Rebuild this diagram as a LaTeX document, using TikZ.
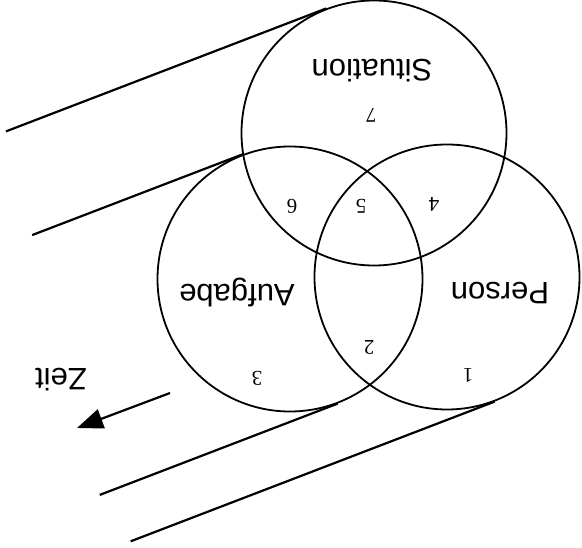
\documentclass[tikz,border=0pt]{standalone}
\usepackage{fontspec}
\setmainfont{Liberation Serif}
\setsansfont{Liberation Sans}
\usetikzlibrary{arrows.meta, calc}

\begin{document}
\begin{tikzpicture}[x=1pt, y=-1pt,
    kreis/.style = {circle, draw, line width=1.8pt, minimum size=265pt, inner sep=0pt},
    titel/.style = {rotate=180, font=\sffamily\fontsize{31}{31}\selectfont},
    zahl/.style = {rotate=180, font=\rmfamily\fontsize{21}{21}\selectfont},
    spur/.style = {line width=2.2pt}
]
\useasboundingbox (0,0) rectangle (582,548);

% die drei Kreise
\node (sit) [kreis] at (374,133) {};
\node (auf) [kreis] at (290,279) {};
\node (per) [kreis] at (447,277) {};

% Beschriftung (auf dem Kopf)
\node (tsit) [titel] at (372,71) {Situation};
\node (tauf) [titel] at (237,293) {Aufgabe};
\node (tper) [titel] at (500,293) {Person};
\node (tzeit) [titel] at (61,380) {Zeit};

\node (n1) [zahl] at (468,375) {1};
\node (n2) [zahl] at (369,347) {2};
\node (n3) [zahl] at (257,378) {3};
\node (n4) [zahl] at (434,204) {4};
\node (n5) [zahl] at (361,206) {5};
\node (n6) [zahl] at (292,206) {6};
\node (n7) [zahl] at (371,115) {7};

% Spuren in der Zeit
\coordinate (ende1) at ($(sit.111)+(159:343)$);
\coordinate (ende2) at ($(auf.111)+(159:225)$);
\coordinate (ende3) at ($(auf.291)+(159:255)$);
\coordinate (ende4) at ($(per.291)+(159:390)$);
\draw [spur] (sit.111) -- (ende1);
\draw [spur] (auf.111) -- (ende2);
\draw [spur] (auf.291) -- (ende3);
\draw [spur] (per.291) -- (ende4);

% Zeitpfeil
\coordinate (pfeilA) at (170,393);
\coordinate (pfeilB) at (77,428);
\draw [spur, -{Triangle[length=26pt, width=20pt]}] (pfeilA) -- (pfeilB);
\end{tikzpicture}
\end{document}
